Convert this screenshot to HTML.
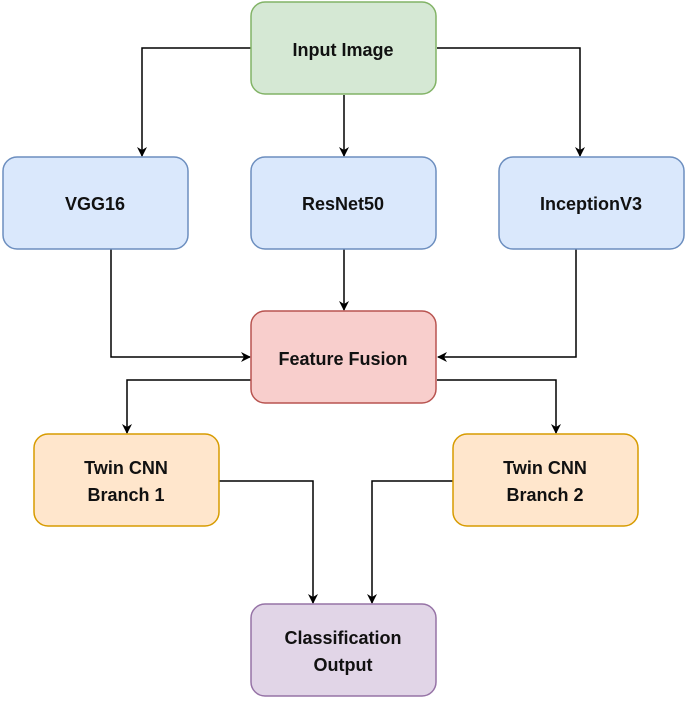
<!DOCTYPE html>
<html><head><meta charset="utf-8"><style>
html,body{margin:0;padding:0;background:#fff;}
svg text{font-family:"Liberation Sans",Arial,sans-serif;font-weight:bold;font-size:18px;fill:#111;text-anchor:middle;}
</style></head><body>
<svg width="685" height="700" viewBox="0 0 685 700" xmlns="http://www.w3.org/2000/svg">
<defs><marker id="a" markerWidth="10" markerHeight="10" refX="9" refY="5" orient="auto" markerUnits="userSpaceOnUse"><path d="M0,0 L10,5 L0,10 L3,5 z" fill="#000"/></marker></defs>
<g fill="none" stroke="#000" stroke-width="1.5" marker-end="url(#a)">
<path d="M251,48 H142 V156"/>
<path d="M344,95 V156"/>
<path d="M437,48 H580 V156"/>
<path d="M111,249 V357 H250"/>
<path d="M344,249 V310"/>
<path d="M576,249 V357 H438"/>
<path d="M251,380 H127 V433"/>
<path d="M437,380 H556 V433"/>
<path d="M219,481 H313 V603"/>
<path d="M453,481 H372 V603"/>
</g>
<rect x="251" y="2" width="185" height="92" rx="14" fill="#d5e8d4" stroke="#82b366" stroke-width="1.5"/>
<rect x="3" y="157" width="185" height="92" rx="14" fill="#dae8fc" stroke="#6c8ebf" stroke-width="1.5"/>
<rect x="251" y="157" width="185" height="92" rx="14" fill="#dae8fc" stroke="#6c8ebf" stroke-width="1.5"/>
<rect x="499" y="157" width="185" height="92" rx="14" fill="#dae8fc" stroke="#6c8ebf" stroke-width="1.5"/>
<rect x="251" y="311" width="185" height="92" rx="14" fill="#f8cecc" stroke="#b85450" stroke-width="1.5"/>
<rect x="34" y="434" width="185" height="92" rx="14" fill="#ffe6cc" stroke="#d79b00" stroke-width="1.5"/>
<rect x="453" y="434" width="185" height="92" rx="14" fill="#ffe6cc" stroke="#d79b00" stroke-width="1.5"/>
<rect x="251" y="604" width="185" height="92" rx="14" fill="#e1d5e7" stroke="#9673a6" stroke-width="1.5"/>
<text x="343" y="56">Input Image</text>
<text x="95" y="210">VGG16</text>
<text x="343" y="210">ResNet50</text>
<text x="591" y="210">InceptionV3</text>
<text x="343" y="365">Feature Fusion</text>
<text x="126" y="474">Twin CNN</text>
<text x="126" y="501">Branch 1</text>
<text x="545" y="474">Twin CNN</text>
<text x="545" y="501">Branch 2</text>
<text x="343" y="644">Classification</text>
<text x="343" y="671">Output</text>
</svg>
</body></html>
